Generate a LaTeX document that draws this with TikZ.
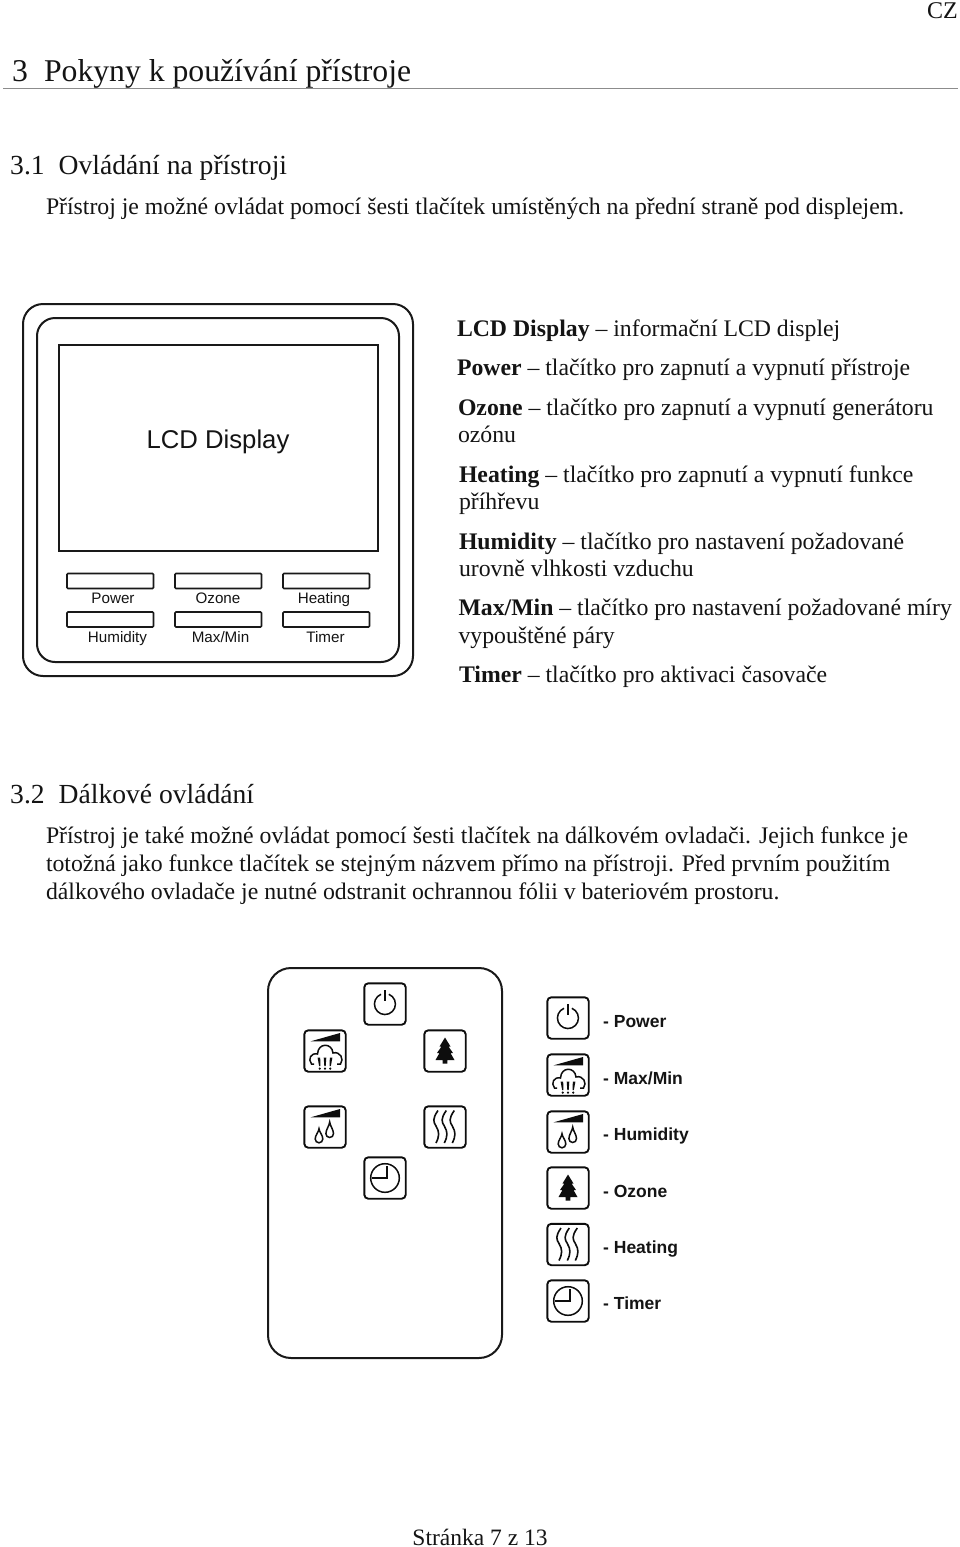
\documentclass[tikz,border=0pt]{standalone}
\usepackage{fontspec}
\setmainfont{Liberation Serif}
\newfontfamily\arialf{Liberation Sans}
\tikzset{
  x=1pt,y=-1pt,
  txt/.style={anchor=base west,inner sep=0pt,outer sep=0pt,font=\fontsize{23.75}{26}\selectfont,text=black!92},
  big/.style={anchor=base west,inner sep=0pt,font=\fontsize{31.7}{34}\selectfont,text=black!92},
  h2/.style={anchor=base west,inner sep=0pt,font=\fontsize{27.6}{30}\selectfont,text=black!92},
  lcdlabel/.style={anchor=base,inner sep=0pt,font=\arialf\fontsize{15.2}{18}\selectfont,text=black!92},
  keylabel/.style={anchor=base west,inner sep=0pt,font=\arialf\bfseries\fontsize{17.5}{20}\selectfont,text=black!92},
  frameline/.style={draw=black!90,line width=2pt},
  keybox/.style={draw=black!90,line width=1.7pt,rounded corners=1pt},
  iconbox/.style={draw=black!95,line width=1.9pt,rounded corners=4pt},
  iconline/.style={draw=black!95,line width=1.5pt},
  iconfill/.style={fill=black!95,draw=none},
  power icon/.pic={
    \draw[iconbox] (-20.7,-20.7) rectangle (20.7,20.7);
    \draw[iconline] (-4,-9.7) arc[start angle=-112,end angle=-428,radius=10.5];
    \draw[iconline] (0,-14) -- (0,-3);
  },
  wedge part/.pic={
    \fill[iconfill] (-14.3,-9.7) -- (15,-18) -- (15,-9.7) -- cycle;
  },
  maxmin icon/.pic={
    \draw[iconbox] (-20.7,-20.7) rectangle (20.7,20.7);
    \pic {wedge part};
    \draw[iconline] (-11,13) -- (-13.5,13) .. controls (-17.5,8) and (-14,1.5) .. (-7.5,3)
       .. controls (-7,-8.5) and (7,-8.5) .. (8,2)
       .. controls (15,0) and (19.5,8) .. (15.5,13) -- (12,13);
    \fill[iconfill] (-7.4,6.5) -- (-4.8,6.5) -- (-4.6,15) -- (-5.9,15) -- cycle;
    \fill[iconfill] (-1.3,6.5) -- (1.3,6.5) -- (0.7,15) -- (-0.7,15) -- cycle;
    \fill[iconfill] (4.8,6.5) -- (7.4,6.5) -- (5.9,15) -- (4.6,15) -- cycle;
    \fill[iconfill] (-5.2,17.6) circle[radius=1.2];
    \fill[iconfill] (0,17.6) circle[radius=1.2];
    \fill[iconfill] (5.2,17.6) circle[radius=1.2];
  },
  humid icon/.pic={
    \draw[iconbox] (-20.7,-20.7) rectangle (20.7,20.7);
    \pic {wedge part};
    \draw[iconline] (-6,1.7) .. controls (-5.8,5) and (-2.2,8) .. (-2.2,12) arc[start angle=0,end angle=180,radius=3.8] .. controls (-9.8,8) and (-6.2,5) .. (-6,1.7) -- cycle;
    \draw[iconline] (4.7,-5) .. controls (4.9,-1.5) and (8.5,2.5) .. (8.5,6.7) arc[start angle=0,end angle=180,radius=3.8] .. controls (0.9,2.5) and (4.5,-1.5) .. (4.7,-5) -- cycle;
  },
  ozone icon/.pic={
    \draw[iconbox] (-20.7,-20.7) rectangle (20.7,20.7);
    \fill[iconfill] (0,-13.5) -- (5.5,-4.5) -- (3.5,-4.5) -- (8,2) -- (5.5,2) -- (9.5,9) -- (2.4,9) -- (2.4,12.7) -- (-2.4,12.7) -- (-2.4,9) -- (-9.5,9) -- (-5.5,2) -- (-8,2) -- (-3.5,-4.5) -- (-5.5,-4.5) -- cycle;
  },
  heat wave/.pic={
    \draw[iconline,line width=1.6pt] (1,-16.5) .. controls (-5,-8) and (-3.5,-5) .. (-1,-1) .. controls (2.5,5) and (2.5,9) .. (-1,16);
  },
  heat icon/.pic={
    \draw[iconbox] (-20.7,-20.7) rectangle (20.7,20.7);
    \pic at (-8,0) {heat wave};
    \pic at (0.3,0) {heat wave};
    \pic at (8.3,0) {heat wave};
  },
  timer icon/.pic={
    \draw[iconbox] (-20.7,-20.7) rectangle (20.7,20.7);
    \draw[iconline] (0,0) circle[radius=14.3];
    \draw[iconline] (2,-12) -- (2,0) -- (-13,0);
  },
}
\begin{document}
\begin{tikzpicture}
\useasboundingbox[fill=white] (0,0) rectangle (960,1547);
% page text
\node[anchor=base east,inner sep=0pt,font=\fontsize{24}{28}\selectfont,text=black!92] (cz) at (958,19) {CZ};
\node[big] (h1) at (12,81) {3\hspace{16pt}Pokyny k používání přístroje};
\coordinate (ruleL) at (3,88);
\coordinate (ruleR) at (958,88);
\draw[draw=black!45,line width=1pt] (ruleL) -- (ruleR);
\node[h2] (h31) at (10,174) {3.1\hspace{14pt}Ovládání na přístroji};
\node[txt] (p1) at (46,214) {Přístroj je možné ovládat pomocí šesti tlačítek umístěných na přední straně pod displejem.};
% LCD panel
\draw[frameline] (23,304) [rounded corners=20pt] rectangle (413,676);
\draw[frameline] (37,318) [rounded corners=18pt] rectangle (399,662);
\draw[frameline] (58.5,344.5) rectangle (378,550.5);
\node[anchor=base,inner sep=0pt,font=\arialf\fontsize{25.7}{30}\selectfont,text=black!92] (lcd) at (218,448) {LCD Display};
\foreach \bx in {67,175,283}{
  \draw[keybox] (\bx,573.5) rectangle ++(86.5,15);
  \draw[keybox] (\bx,612) rectangle ++(86.5,15);
}
\node[lcdlabel] (lp) at (113,603) {Power};
\node[lcdlabel] (lo) at (218,603) {Ozone};
\node[lcdlabel] (lh) at (324,603) {Heating};
\node[lcdlabel] (lu) at (117.5,642.5) {Humidity};
\node[lcdlabel] (lm) at (220.5,642.5) {Max/Min};
\node[lcdlabel] (lt) at (325.5,642.5) {Timer};
% description
\node[txt] (d1) at (457,336) {\textbf{LCD Display} -- informační LCD displej};
\node[txt] (d2) at (457,375.5) {\textbf{Power} -- tlačítko pro zapnutí a vypnutí přístroje};
\node[txt] (d3) at (458,415) {\textbf{Ozone} -- tlačítko pro zapnutí a vypnutí generátoru};
\node[txt] (d3b) at (458,442) {ozónu};
\node[txt] (d4) at (459,482) {\textbf{Heating} -- tlačítko pro zapnutí a vypnutí funkce};
\node[txt] (d4b) at (459,509) {příhřevu};
\node[txt] (d5) at (459,549) {\textbf{Humidity} -- tlačítko pro nastavení požadované};
\node[txt] (d5b) at (459,576) {urovně vlhkosti vzduchu};
\node[txt] (d6) at (458.5,615.5) {\textbf{Max/Min} -- tlačítko pro nastavení požadované míry};
\node[txt] (d6b) at (458.5,643) {vypouštěné páry};
\node[txt] (d7) at (459,682) {\textbf{Timer} -- tlačítko pro aktivaci časovače};
% section 3.2
\node[h2] (h32) at (10,803) {3.2\hspace{14pt}Dálkové ovládání};
\node[txt] (q1) at (46,843) {Přístroj je také možné ovládat pomocí šesti tlačítek na dálkovém ovladači. Jejich funkce je};
\node[txt] (q2) at (46,871) {totožná jako funkce tlačítek se stejným názvem přímo na přístroji. Před prvním použitím};
\node[txt] (q3) at (46,899) {dálkového ovladače je nutné odstranit ochrannou fólii v bateriovém prostoru.};
% remote
\draw[frameline,rounded corners=23pt] (268,968) rectangle (502,1358);
\pic at (385,1004) {power icon};
\pic at (325,1051) {maxmin icon};
\pic at (445,1051) {ozone icon};
\pic at (325,1127) {humid icon};
\pic at (445,1127) {heat icon};
\pic at (385,1178) {timer icon};
% legend
\pic at (568,1018) {power icon};
\pic at (568,1075) {maxmin icon};
\pic at (568,1132) {humid icon};
\pic at (568,1188) {ozone icon};
\pic at (568,1244.5) {heat icon};
\pic at (568,1301) {timer icon};
\node[keylabel] (k1) at (603,1027) {- Power};
\node[keylabel] (k2) at (603,1084) {- Max/Min};
\node[keylabel] (k3) at (603,1140) {- Humidity};
\node[keylabel] (k4) at (603,1197) {- Ozone};
\node[keylabel] (k5) at (603,1253) {- Heating};
\node[keylabel] (k6) at (603,1309) {- Timer};
\node[anchor=base,inner sep=0pt,font=\fontsize{23.5}{28}\selectfont,text=black!92] (foot) at (480,1545) {Stránka 7 z 13};
\end{tikzpicture}
\end{document}
